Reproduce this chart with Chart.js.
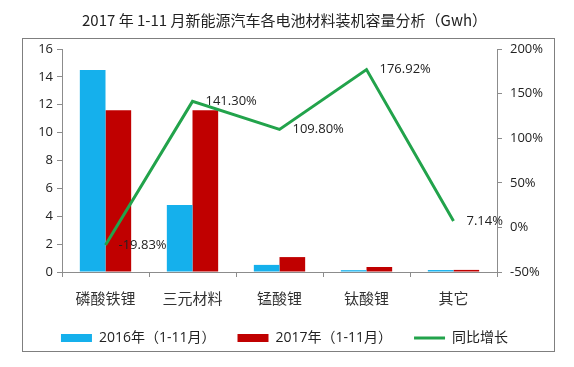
<!DOCTYPE html>
<html>
<head>
<meta charset="utf-8">
<script src="https://cdn.jsdelivr.net/npm/chart.js@4"></script>
<style>
  html, body { margin: 0; padding: 0; background: #fff; }
  #wrap { width: 574px; height: 367px; }
</style>
</head>
<body>
<div id="wrap"><canvas id="myChart" width="574" height="367"></canvas></div>
<script>
// data
const categories = ['磷酸铁锂', '三元材料', '锰酸锂', '钛酸锂', '其它']
const vol2016 = [14.5, 4.8, 0.51, 0.13, 0.14]
const vol2017 = [11.6, 11.6, 1.07, 0.36, 0.15]
const growth = [-19.83, 141.30, 109.80, 176.92, 7.14]
const leftTicks = [0, 2, 4, 6, 8, 10, 12, 14, 16]
const rightTicks = [-50, 0, 50, 100, 150, 200]

const seriesNames = ['2016年（1-11月）', '2017年（1-11月）', '同比增长']
const blue = '#15b0ec'
const red = '#c00000'
const green = '#22a34b'
const axisGray = '#8c8c8c'

// border round the chart + value labels on the line
const frame = {
  id: 'frame',
  beforeDraw(chart) {
    const ctx = chart.ctx
    ctx.save()
    ctx.fillStyle = '#fff'
    ctx.fillRect(0, 0, chart.width, chart.height)
    ctx.strokeStyle = '#7f7f7f'
    ctx.lineWidth = 1
    ctx.strokeRect(22.5, 38.5, 532, 313)
    ctx.restore()
  },
  afterDatasetsDraw(chart) {
    const ctx = chart.ctx
    const meta = chart.getDatasetMeta(2)
    ctx.save()
    ctx.font = '13px "Open Sans"'
    ctx.fillStyle = '#222'
    ctx.textAlign = 'left'
    ctx.textBaseline = 'middle'
    meta.data.forEach((pt, i) => {
      ctx.fillText(growth[i].toFixed(2) + '%', pt.x + 13, pt.y)
    })
    ctx.restore()
  }
}

const lineCanvas = document.getElementById('myChart')

const stackedChart = new Chart(lineCanvas, {
  data: {
    labels: categories,
    datasets: [
      { type: 'bar', label: seriesNames[0], data: vol2016, backgroundColor: blue, yAxisID: 'y', order: 1 },
      { type: 'bar', label: seriesNames[1], data: vol2017, backgroundColor: red, yAxisID: 'y', order: 1 },
      { type: 'line', label: seriesNames[2], data: growth, borderColor: green, backgroundColor: green,
        borderWidth: 3, pointRadius: 0, tension: 0, yAxisID: 'y1', order: 0 }
    ]
  },
  options: {
    responsive: false,
    animation: false,
    layout: { padding: { left: 22, right: 27, top: 0, bottom: 12 } },
    datasets: {
      bar: { categoryPercentage: 0.59, barPercentage: 1.0, borderWidth: 0 }
    },
    plugins: {
      tooltip: { enabled: false },
      title: {
        display: true,
        text: '2017 年 1-11 月新能源汽车各电池材料装机容量分析（Gwh）',
        color: '#222',
        font: { family: '"Noto Sans CJK SC"', size: 15, weight: 'normal' },
        padding: { top: 11, bottom: 20 }
      },
      legend: {
        position: 'bottom',
        labels: {
          usePointStyle: true,
          pointStyleWidth: 31,
          boxHeight: 8,
          padding: 22,
          color: '#222',
          font: { family: '"Open Sans", "Noto Sans CJK SC"', size: 14 },
          sort: (a, b) => a.datasetIndex - b.datasetIndex,
          generateLabels(chart) {
            const items = Chart.defaults.plugins.legend.labels.generateLabels(chart)
            items.forEach(it => {
              if (it.datasetIndex === 2) {
                it.pointStyle = 'line'
                it.strokeStyle = green
                it.lineWidth = 3
              } else {
                it.pointStyle = 'rect'
                it.lineWidth = 0
              }
            })
            return items
          }
        }
      }
    },
    scales: {
      x: {
        grid: { display: true, drawOnChartArea: false, offset: true, tickLength: 5, color: axisGray },
        border: { color: axisGray },
        ticks: { color: '#333', padding: 12, font: { family: '"Noto Sans CJK SC"', size: 15 } },
        afterFit(scale) { scale.height = 37 }
      },
      y: {
        position: 'left',
        min: 0, max: 16,
        afterBuildTicks(scale) { scale.ticks = leftTicks.map(v => ({ value: v })) },
        grid: { drawOnChartArea: false, tickLength: 5, color: axisGray },
        border: { color: axisGray },
        ticks: { color: '#222', padding: 4, font: { family: '"Open Sans"', size: 13 } },
        afterFit(scale) { scale.width = 40 }
      },
      y1: {
        position: 'right',
        min: -50, max: 200,
        afterBuildTicks(scale) { scale.ticks = rightTicks.map(v => ({ value: v })) },
        grid: { drawOnChartArea: false, tickLength: 5, color: axisGray },
        border: { color: axisGray },
        ticks: { color: '#222', padding: 8, font: { family: '"Open Sans"', size: 13 },
          callback: v => v + '%' },
        afterFit(scale) { scale.width = 50 }
      }
    }
  },
  plugins: [frame]
})
</script>
</body>
</html>
